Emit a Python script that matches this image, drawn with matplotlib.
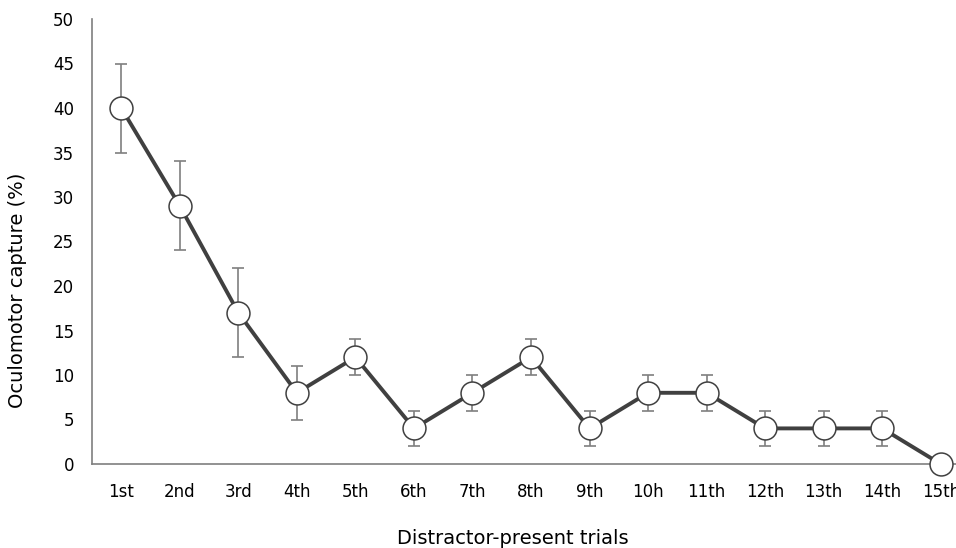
import matplotlib
matplotlib.use("Agg")
import matplotlib.pyplot as plt

trials = ["1st", "2nd", "3rd", "4th", "5th", "6th", "7th", "8th",
          "9th", "10h", "11th", "12th", "13th", "14th", "15th"]
capture = [40, 29, 17, 8, 12, 4, 8, 12, 4, 8, 8, 4, 4, 4, 0]
err = [5, 5, 5, 3, 2, 2, 2, 2, 2, 2, 2, 2, 2, 2, 0]
yticks = [0, 5, 10, 15, 20, 25, 30, 35, 40, 45, 50]

plt.rcParams['font.family'] = ['DejaVu Sans']

W, H = 956, 548
fig = plt.figure(figsize=(W / 100, H / 100), dpi=100)
left, right, top, bottom = 92, 970, 19, 464
ax = fig.add_axes([left / W, 1 - bottom / H, (right - left) / W, (bottom - top) / H])

x = list(range(1, len(trials) + 1))
ax.errorbar(x, capture, yerr=err, fmt='none', ecolor='#7f7f7f',
            elinewidth=1.2, capsize=4, capthick=1.2, zorder=2)
ax.plot(x, capture, color='#404040', lw=2.8, marker='o', markersize=16.5,
        markerfacecolor='white', markeredgecolor='#404040',
        markeredgewidth=1.1, zorder=3, clip_on=False)

ax.set_xlim(0.5, 15.5)
ax.set_ylim(0, 50)
ax.set_yticks(yticks)
ax.set_xticks(x)
ax.set_xticklabels(trials)
ax.tick_params(axis='both', length=0, labelsize=12, colors='#000000')
ax.tick_params(axis='y', pad=13)
ax.tick_params(axis='x', pad=14)

for s in ['top', 'right']:
    ax.spines[s].set_visible(False)
for s in ['left', 'bottom']:
    ax.spines[s].set_color('#7f7f7f')
    ax.spines[s].set_linewidth(1.2)

fig.text(18 / W, 1 - 290 / H, "Oculomotor capture (%)", rotation=90,
         ha='center', va='center', fontsize=14)
fig.text(513 / W, 1 - 538 / H, "Distractor-present trials",
         ha='center', va='center', fontsize=14)

fig.savefig("out.png", dpi=100)
